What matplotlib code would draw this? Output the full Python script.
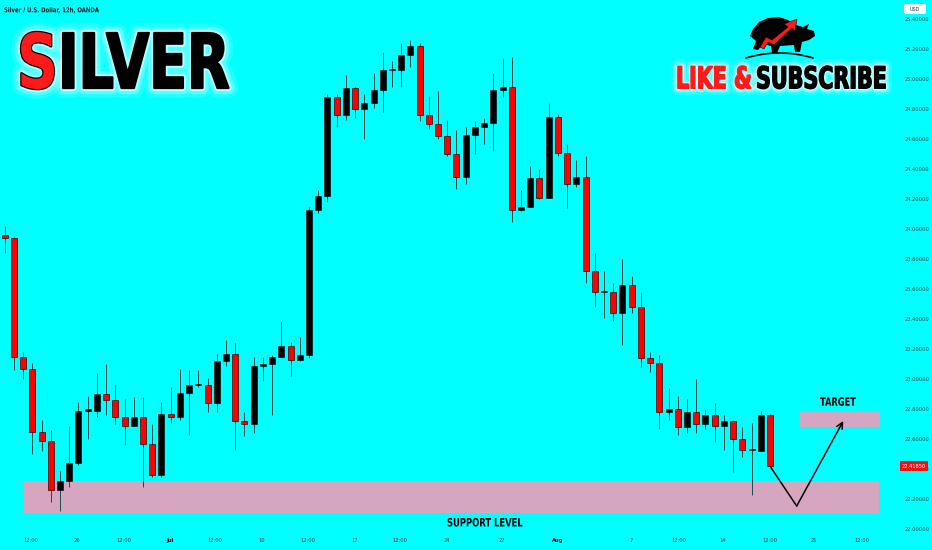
import matplotlib
matplotlib.use('Agg')
import matplotlib.pyplot as plt
import matplotlib.patheffects as pe
import numpy as np
from matplotlib.patches import Rectangle, Polygon, FancyBboxPatch
from matplotlib.transforms import Affine2D, blended_transform_factory

BG = '#00FFFF'

# 12h candles, Silver / USD (OANDA)
opens = [23.96, 23.94, 23.15, 23.07, 22.65, 22.59, 22.26, 22.32, 22.44, 22.79,
         22.79, 22.90, 22.86, 22.75, 22.69, 22.75, 22.57, 22.36, 22.77, 22.75,
         22.91, 22.96, 22.96, 22.84, 23.12, 23.17, 22.72, 22.70, 23.09, 23.10,
         23.15, 23.22, 23.13, 23.16, 24.13, 24.22, 24.88, 24.76, 24.94, 24.80,
         24.84, 24.93, 25.06, 25.06, 25.16, 25.22, 24.76, 24.70, 24.62, 24.50,
         24.35, 24.63, 24.68, 24.71, 24.93, 24.95, 24.13, 24.15, 24.34, 24.21,
         24.75, 24.51, 24.30, 24.35, 23.72, 23.58, 23.58, 23.44, 23.63, 23.48,
         23.14, 23.11, 22.78, 22.80, 22.68, 22.78, 22.70, 22.76, 22.69, 22.72,
         22.60, 22.53, 22.52, 22.76]
highs = [24.02, 23.95, 23.18, 23.11, 22.73, 22.66, 22.39, 22.69, 22.85, 22.89,
         23.04, 23.10, 22.97, 22.87, 22.88, 22.88, 22.70, 22.85, 22.95, 23.07,
         23.06, 23.06, 23.01, 23.17, 23.26, 23.24, 22.78, 23.15, 23.15, 23.16,
         23.39, 23.25, 23.28, 24.15, 24.26, 24.90, 24.90, 25.03, 24.95, 24.90,
         25.04, 25.18, 25.12, 25.24, 25.26, 25.24, 24.89, 24.92, 24.73, 24.66,
         24.68, 24.72, 24.74, 25.04, 25.14, 25.15, 24.26, 24.42, 24.40, 24.84,
         24.77, 24.57, 24.46, 24.49, 23.84, 23.72, 23.64, 23.80, 23.69, 23.58,
         23.18, 23.16, 22.94, 22.89, 22.87, 23.00, 22.80, 22.84, 22.76, 22.73,
         22.68, 22.71, 22.79, 22.77]
lows = [23.84, 23.06, 23.00, 22.50, 22.52, 22.18, 22.12, 22.28, 22.43, 22.60,
        22.75, 22.76, 22.70, 22.56, 22.69, 22.28, 22.35, 22.35, 22.71, 22.73,
        22.63, 22.95, 22.78, 22.78, 23.09, 22.53, 22.62, 22.64, 22.99, 22.76,
        23.15, 23.02, 23.12, 23.14, 24.11, 24.18, 24.68, 24.73, 24.74, 24.60,
        24.81, 24.78, 24.95, 24.95, 25.08, 24.72, 24.67, 24.60, 24.49, 24.27,
        24.30, 24.50, 24.57, 24.52, 24.88, 24.05, 24.12, 24.15, 24.20, 24.21,
        24.49, 24.14, 24.28, 23.64, 23.48, 23.41, 23.39, 23.23, 23.44, 23.08,
        23.05, 22.67, 22.73, 22.63, 22.64, 22.64, 22.67, 22.58, 22.53, 22.38,
        22.48, 22.23, 22.52, 22.42]
closes = [23.94, 23.15, 23.07, 22.65, 22.59, 22.26, 22.32, 22.44, 22.79, 22.80,
          22.90, 22.86, 22.75, 22.69, 22.75, 22.57, 22.36, 22.77, 22.75, 22.91,
          22.96, 22.965, 22.84, 23.12, 23.17, 22.72, 22.70, 23.09, 23.10, 23.15,
          23.22, 23.13, 23.16, 24.13, 24.22, 24.88, 24.76, 24.94, 24.80, 24.84,
          24.93, 25.06, 25.065, 25.16, 25.22, 24.76, 24.70, 24.62, 24.50, 24.35,
          24.63, 24.68, 24.71, 24.93, 24.95, 24.13, 24.15, 24.34, 24.21, 24.75,
          24.51, 24.30, 24.35, 23.72, 23.58, 23.585, 23.44, 23.63, 23.48, 23.14,
          23.11, 22.78, 22.80, 22.68, 22.78, 22.70, 22.76, 22.69, 22.72, 22.60,
          22.53, 22.525, 22.76, 22.4185]

price_ticks = [22.0, 22.2, 22.4, 22.6, 22.8, 23.0, 23.2, 23.4, 23.6, 23.8,
               24.0, 24.2, 24.4, 24.6, 24.8, 25.0, 25.2, 25.4]
time_pos = [2.85, 7.84, 12.94, 17.93, 22.81, 27.91, 32.9, 37.9, 42.9, 47.9,
            53.9, 60.0, 67.9, 73.1, 77.9, 83.0, 87.8, 93.0]
time_labels = ['12:00', '26', '12:00', 'Jul', '12:00', '10', '12:00', '17',
               '12:00', '24', '27', 'Aug', '7', '12:00', '14', '12:00', '21', '12:00']

support_zone = (2.1, 94.8, 22.11, 22.32)   # x0, x1, y0, y1
target_zone = (86.1, 94.9, 22.68, 22.78)
plan_x = [83.1, 85.9, 90.95]
plan_y = [22.41, 22.153, 22.72]
last_price = 22.4185

CAP = 0.729  # DejaVu cap height / em


class Stretch(pe.AbstractPathEffect):
    """stretch text vertically around the baseline y0 (display px), strokes drawn first"""
    def __init__(self, sy, y0, strokes=()):
        super().__init__()
        self.sy, self.y0, self.strokes = sy, y0, strokes

    def draw_path(self, renderer, gc, tpath, affine, rgbFace=None):
        st = affine + Affine2D().translate(0, -self.y0).scale(1, self.sy).translate(0, self.y0)
        for lw, col, a in self.strokes:
            gc0 = renderer.new_gc()
            gc0.copy_properties(gc)
            gc0.set_linewidth(lw)
            gc0.set_foreground(col)
            gc0.set_alpha(a)
            gc0.set_joinstyle('round')
            renderer.draw_path(gc0, tpath, st, None)
            gc0.restore()
        renderer.draw_path(gc, tpath, st, rgbFace)


fig = plt.figure(figsize=(9.32, 5.5), dpi=100, facecolor=BG)
ax = fig.add_axes([0, 15 / 550, 895 / 932, 535 / 550], facecolor=BG)
ax.set_xlim(-0.51, 96.56)
ax.set_ylim(21.96, 25.5267)
for s in ax.spines.values():
    s.set_visible(False)

o, h, l, c = (np.array(a) for a in (opens, highs, lows, closes))
idx = np.arange(len(o))
up = c >= o
body_lo = np.minimum(o, c)
body_h = np.maximum(np.abs(c - o), 0.006)

ax.vlines(idx, l, h, color='#1d4a4a', lw=0.7, zorder=2)
ax.bar(idx[up], body_h[up], bottom=body_lo[up], width=0.65, color='black',
       edgecolor='black', lw=0.4, zorder=3)
ax.bar(idx[~up], body_h[~up], bottom=body_lo[~up], width=0.65, color='#FF0000',
       edgecolor='#3a0000', lw=0.5, zorder=3)

# zones
sx0, sx1, sy0, sy1 = support_zone
ax.add_patch(Rectangle((sx0, sy0), sx1 - sx0, sy1 - sy0, color='#D6A6C1', lw=0, zorder=1))
tx0, tx1, ty0, ty1 = target_zone
ax.add_patch(Rectangle((tx0, ty0), tx1 - tx0, ty1 - ty0, color='#D6A6C1', lw=0, zorder=1))

# projected path
ax.plot(plan_x[:2], plan_y[:2], color='black', lw=1.1, zorder=4, solid_capstyle='round')
ax.annotate('', xy=(plan_x[2], plan_y[2]), xytext=(plan_x[1], plan_y[1]),
            arrowprops=dict(arrowstyle='->', lw=1.1, color='black', mutation_scale=11,
                            shrinkA=0, shrinkB=0), zorder=4)

# axes
ax.yaxis.tick_right()
ax.set_yticks(price_ticks, [f'{v:.5f}' for v in price_ticks])
ax.tick_params(axis='y', length=0, pad=7, labelsize=3.7, labelcolor='#1f3f3f')
ax.set_xticks(time_pos, time_labels)
ax.tick_params(axis='x', length=0, pad=2.5, labelsize=3.7, labelcolor='#1f3f3f')
for lbl in ax.get_xticklabels():
    if lbl.get_text() in ('Jul', 'Aug'):
        lbl.set_fontweight('bold')
        lbl.set_color('black')

trans = blended_transform_factory(ax.transAxes, ax.transData)
ax.text(914 / 895, last_price, f'{last_price:.5f}', transform=trans, ha='center', va='center',
        fontsize=3.7, color='white', clip_on=False,
        bbox=dict(boxstyle='square,pad=0.45', fc='#EE1111', ec='none'))

renderer = fig.canvas.get_renderer()


def fitted(axes, x, y, s, width_px, cap_px, strokes=(), **kw):
    # font size sets the width, the path effect stretches to the cap height
    t = axes.text(x, y, s, ha='left', va='baseline', fontsize=10, **kw)
    w = t.get_window_extent(renderer).width
    fs = 10 * width_px / w
    t.set_fontsize(fs)
    sy = cap_px / (CAP * fs * fig.dpi / 72)
    y0 = axes.transData.transform((x, y))[1]
    t.set_path_effects([Stretch(sy, y0, strokes)])
    return t


fitted(ax, 47.97, 22.017, 'SUPPORT LEVEL', 76, 8.4, fontweight='bold', color='black', zorder=5)
fitted(ax, 88.43, 22.822, 'TARGET', 36, 8.3, fontweight='bold', color='black', zorder=5)

# overlay in pixel coords for the header graphics
ov = fig.add_axes([0, 0, 1, 1], zorder=5)
ov.set_xlim(0, 932)
ov.set_ylim(550, 0)
ov.axis('off')
ov.patch.set_visible(False)

fitted(ov, 4, 12.3, 'Silver / U.S. Dollar, 12h, OANDA', 95, 5, fontweight='bold', color='#1a1a1a')

glow = [(14, 'white', 0.12), (9, 'white', 0.25), (4.5, 'white', 0.55)]
fitted(ov, 17, 88, 'S', 41, 55, strokes=glow + [(1.8, 'black', 1)],
       fontweight='bold', color='#FF1A1A', zorder=1)
fitted(ov, 58, 88, 'ILVER', 172, 55, strokes=glow + [(1.6, 'black', 1)],
       fontweight='bold', color='black', zorder=2)

glow2 = [(10, 'white', 0.12), (6, 'white', 0.3), (3, 'white', 0.6)]
fitted(ov, 676, 88.3, 'LIKE &', 76, 22, strokes=glow2 + [(1.0, '#FF1A1A', 1)],
       fontweight='bold', color='#FF1A1A')
fitted(ov, 756, 88.3, 'SUBSCRIBE', 131, 22, strokes=glow2 + [(1.0, 'black', 1)],
       fontweight='bold', color='black')

# bull logo, rough
bull = [(750, 36), (753, 29), (759, 22), (768, 18), (779, 17), (788, 20), (796, 25),
        (803, 27), (809, 24), (807, 29), (814, 31), (815, 36), (809, 40), (802, 42),
        (800, 52), (795, 52), (794, 45), (780, 46), (777, 53), (772, 53), (771, 46),
        (763, 44), (758, 50), (753, 49), (756, 41)]
ov.add_patch(Polygon(bull, closed=True, fc='black', ec='none'))
red_arrow = [(760, 47), (766, 37), (772, 40), (788, 27), (784, 24), (797, 19),
             (795, 31), (792, 28), (774, 45), (768, 42), (764, 49)]
ov.add_patch(Polygon(red_arrow, closed=True, fc='#FF1A1A', ec='black', lw=0.4))
arc_x = np.linspace(746, 813, 40)
ov.plot(arc_x, 58 - 5 * (1 - ((arc_x - 779.5) / 33.5) ** 2), color='black', lw=1.2)

# currency box
ov.add_patch(FancyBboxPatch((904, 4), 22, 10, boxstyle='round,pad=0,rounding_size=2',
                            fc='white', ec='none'))
ov.text(915, 9.2, 'USD', ha='center', va='center', fontsize=3.5, color='#1f3f3f')

fig.savefig('out.png', dpi=100, facecolor=BG)
